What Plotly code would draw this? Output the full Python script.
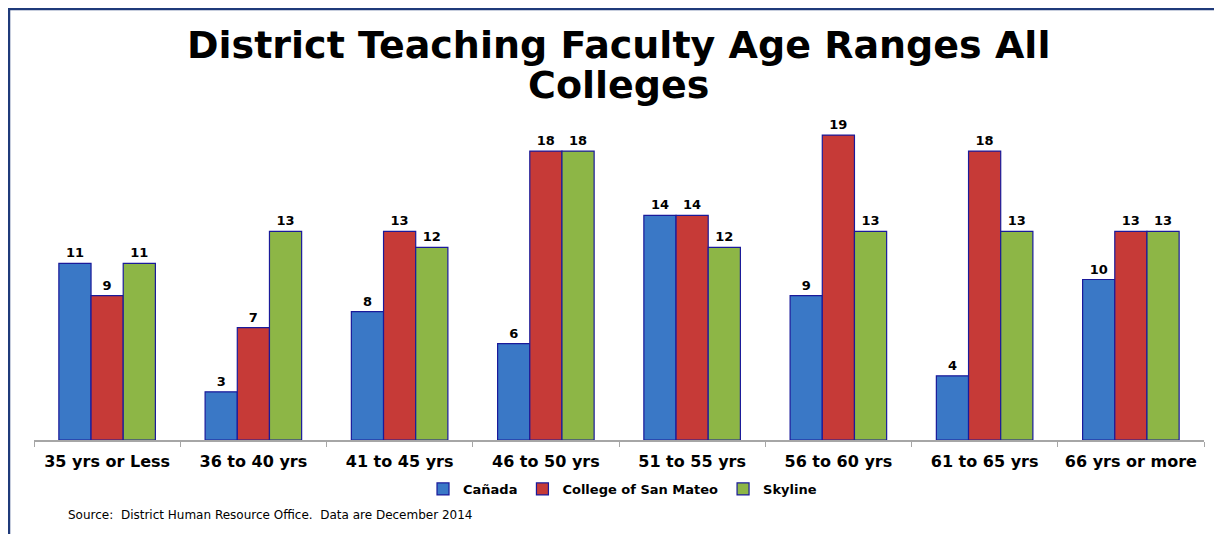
import plotly.graph_objects as go

categories = ["35 yrs or Less", "36 to 40 yrs", "41 to 45 yrs", "46 to 50 yrs",
              "51 to 55 yrs", "56 to 60 yrs", "61 to 65 yrs", "66 yrs or more"]
canada = [11, 3, 8, 6, 14, 9, 4, 10]
csm = [9, 7, 13, 18, 14, 19, 18, 13]
skyline = [11, 13, 12, 18, 12, 13, 13, 13]
title_lines = ["District Teaching Faculty Age Ranges All", "Colleges"]

series = [("Cañada", canada, "#3A78C6"),
          ("College of San Mateo", csm, "#C63A37"),
          ("Skyline", skyline, "#8DB646")]

FONT = "DejaVu Sans"
# the page body has an 8px margin, so the figure is laid out 8px in from the top-left
W, H = 1214, 526
ml, mr, mt, mb = 26, 18, 111, 94
pw, ph = W - ml - mr, H - mt - mb

fig = go.Figure()
for name, vals, col in series:
    fig.add_trace(go.Bar(
        x=categories, y=vals, name=name,
        marker=dict(color=col, line=dict(color="#1A1A9A", width=1.2)),
        text=vals, textposition="outside", cliponaxis=False,
        textfont=dict(family=FONT, size=13, color="black", weight="bold"),
    ))

def px_x(p):
    return (p - ml) / pw

def px_y(p):
    return (H - mb - p) / ph

fig.add_shape(type="rect", xref="paper", yref="paper",
              x0=px_x(1), x1=px_x(1400), y0=px_y(800), y1=px_y(1),
              line=dict(color="#1F3A7A", width=2.5), fillcolor="rgba(0,0,0,0)", layer="below")

for line, ypx in zip(title_lines, [37, 77]):
    fig.add_annotation(xref="paper", yref="paper", x=px_x(610), y=px_y(ypx),
                       xanchor="center", yanchor="middle", showarrow=False,
                       text=line,
                       font=dict(family=FONT, size=38, color="black", weight="bold"))

fig.add_annotation(xref="paper", yref="paper", x=px_x(58), y=px_y(507),
                   xanchor="left", yanchor="middle", showarrow=False,
                   text="Source:  District Human Resource Office.  Data are December 2014",
                   font=dict(family=FONT, size=12, color="black"))

fig.update_layout(
    width=W, height=H,
    margin=dict(l=ml, r=mr, t=mt, b=mb),
    paper_bgcolor="white", plot_bgcolor="white",
    barmode="group", bargap=0.34, bargroupgap=0,
    showlegend=True,
    legend=dict(orientation="h", x=0.503, xanchor="center", y=px_y(481), yanchor="middle",
                font=dict(family=FONT, size=13, color="black", weight="bold"),
                itemwidth=30, traceorder="normal"),
    xaxis=dict(showline=True, linecolor="#A6A6A6", linewidth=1.5,
               ticks="outside", tickson="boundaries", ticklen=5, tickcolor="#A6A6A6",
               ticklabelstandoff=6,
               tickfont=dict(family=FONT, size=16, color="black", weight="bold"),
               showgrid=False),
    yaxis=dict(range=[0, 20], visible=False, showgrid=False, zeroline=False),
)

fig.write_html("out.html")
